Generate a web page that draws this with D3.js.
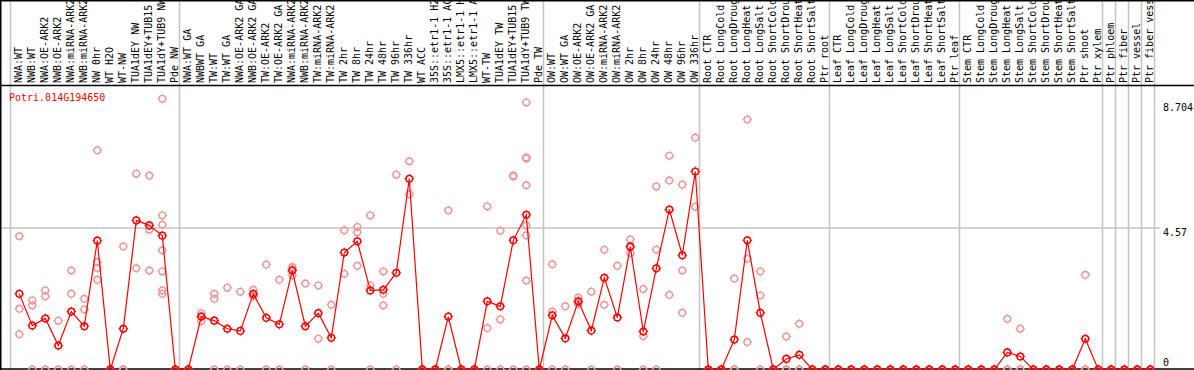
<!DOCTYPE html>
<html>
<head>
<meta charset="utf-8">
<script src="https://cdn.jsdelivr.net/npm/d3@7"></script>
<style>
html, body { margin: 0; padding: 0; background: #fff; overflow: hidden; }
text { font-family: "DejaVu Sans Mono", monospace; font-size: 10px; }
</style>
</head>
<body>
<div id="chart"></div>
<script>
const width = 1194;
const height = 370;

const gene = "Potri.014G194650";

// sample names, in plotting order
const labels = [
    "NWA:WT", "NWB:WT", "NWA:OE-ARK2", "NWB:OE-ARK2", "NWA:miRNA-ARK2", "NWB:miRNA-ARK2",
    "NW 0hr", "WT H2O", "WT-NW", "TUA1dEY NW", "TUA1dEY+TUB15 NW", "TUA1dY+TUB9 NW", "Pde NW",
    "NWA:WT GA", "NWBWT GA", "TW:WT", "TW:WT GA", "NWA:OE-ARK2 GA", "NWB:OE-ARK2 GA",
    "TW:OE-ARK2", "TW:OE-ARK2 GA", "NWA:miRNA-ARK2 GA", "NWB:miRNA-ARK2 GA", "TW:miRNA-ARK2",
    "TW:miRNA-ARK2 GA", "TW 2hr", "TW 8hr", "TW 24hr", "TW 48hr", "TW 96hr", "TW 336hr", "WT ACC",
    "35S::etr1-1 H2O", "35S::etr1-1 ACC", "LMX5::etr1-1 H2O", "LMX5::etr1-1 ACC", "WT-TW",
    "TUA1dEY TW", "TUA1dEY+TUB15 TW", "TUA1dY+TUB9 TW", "Pde TW",
    "OW:WT", "OW:WT GA", "OW:OE-ARK2", "OW:OE-ARK2 GA", "OW:miRNA-ARK2", "OW:miRNA-ARK2 GA",
    "OW 2hr", "OW 8hr", "OW 24hr", "OW 48hr", "OW 96hr", "OW 336hr",
    "Root CTR", "Root LongCold", "Root LongDrought", "Root LongHeat", "Root LongSalt",
    "Root ShortCold", "Root ShortDrought", "Root ShortHeat", "Root ShortSalt", "Ptr root",
    "Leaf CTR", "Leaf LongCold", "Leaf LongDrought", "Leaf LongHeat", "Leaf LongSalt",
    "Leaf ShortCold", "Leaf ShortDrought", "Leaf ShortHeat", "Leaf ShortSalt", "Ptr leaf",
    "Stem CTR", "Stem LongCold", "Stem LongDrought", "Stem LongHeat", "Stem LongSalt",
    "Stem ShortCold", "Stem ShortDrought", "Stem ShortHeat", "Stem ShortSalt", "Ptr shoot", "Ptr xylem",
    "Ptr phloem", "Ptr fiber", "Ptr vessel", "Ptr fiber vessel"
];

// number of samples in each separated block
const groupSizes = [13, 28, 12, 10, 10, 11, 1, 1, 1, 1];

// mean expression per sample
const means = [
    2.43, 1.41, 1.64, 0.77, 1.86, 1.39, 4.14, 0, 1.31, 4.79, 4.63, 4.30, 0,
    0, 1.70, 1.57, 1.31, 1.24, 2.43, 1.66, 1.45, 3.18, 1.39, 1.81, 1.02, 3.76, 4.12,
    2.54, 2.56, 3.11, 6.13, 0, 0, 1.70, 0, 0, 2.19, 2.03, 4.15, 4.97, 0,
    1.74, 1.00, 2.19, 1.25, 2.95, 1.67, 3.95, 1.22, 3.25, 5.14, 3.67, 6.36,
    0, 0, 0.96, 4.15, 1.82, 0, 0.34, 0.47, 0, 0,
    0, 0, 0, 0, 0, 0, 0, 0, 0, 0,
    0, 0, 0, 0.55, 0.42, 0, 0, 0, 0, 0.99, 0,
    0, 0, 0, 0
];

// individual replicates per sample
const replicates = [
    [4.28, 1.95, 1.13], [2.22, 2.06, 0], [2.54, 2.35, 0], [1.57, 0], [3.18, 2.43, 0],
    [2.27, 1.93, 0], [7.04, 3.45, 3.26, 2.88], [0, 0, 0], [3.95, 0, 0], [6.29, 3.25],
    [6.23, 4.49, 3.18], [8.70, 4.95, 4.65, 3.83, 3.15, 2.54, 2.43], [0, 0, 0],
    [0, 0, 0], [1.81, 1.70, 1.55], [2.43, 2.27, 0], [2.63, 0], [2.50, 0], [2.56, 2.35, 2.38],
    [3.37, 0], [2.88, 0], [3.29, 3.02, 3.23], [2.76, 0], [2.70, 0.99], [2.08, 0],
    [4.47, 3.08], [4.58, 4.41, 3.33], [4.95, 2.70, 0], [3.15, 2.43, 2.06], [6.26, 0],
    [6.69, 5.63], [0, 0, 0], [0, 0, 0], [5.11, 0, 0], [0, 0, 0], [0, 0, 0],
    [5.24, 1.33, 0], [4.46, 1.61, 0], [6.23, 6.20, 0],
    [8.58, 6.81, 6.78, 5.92, 4.63, 4.31, 2.86, 0], [0, 0, 0],
    [3.38, 1.86, 0], [2.03, 0], [2.31, 2.10, 2.16], [2.50, 0], [3.85, 2.08], [3.33, 0],
    [4.18, 3.74, 3.93], [2.59, 1.07, 0], [5.88, 3.85, 0], [6.87, 6.07, 2.40],
    [5.94, 3.18, 1.82], [7.45, 5.23],
    [0, 0, 0], [0, 0, 0], [2.92, 0, 0], [8.03, 3.56, 0.88], [3.15, 2.38, 0], [0, 0, 0],
    [1.06, 0, 0], [1.47, 0, 0], [0, 0, 0], [0, 0, 0],
    [0, 0, 0], [0, 0, 0], [0, 0, 0], [0, 0, 0], [0, 0, 0],
    [0, 0, 0], [0, 0, 0], [0, 0, 0], [0, 0, 0], [0, 0, 0],
    [0, 0, 0], [0, 0, 0], [0, 0, 0], [1.63, 0, 0], [1.31, 0, 0], [0, 0, 0],
    [0, 0, 0], [0, 0, 0], [0, 0, 0], [3.04, 0, 0], [0, 0, 0],
    [0, 0, 0], [0, 0, 0], [0, 0, 0], [0, 0, 0]
];

const yTicks = [0, 4.57, 8.704];
const yTickLabels = ["0", "4.57", "8.704"];
const yTop = 9.14;

const headerH = 85;
const red = "#ff0000";
const pink = "#eb9a9a";
const grey = "#c4c4c4";

const svg = d3.select("#chart")
    .append("svg")
    .attr("width", width)
    .attr("height", height);

const x = d3.scaleBand()
    .domain(d3.range(labels.length))
    .range([11.3, 1155.3]);

const y = d3.scaleLinear()
    .domain([0, yTop])
    .range([369.5, headerH]);

const cx = i => x(i) + 8;

// block separators
const starts = [];
let acc = 0;
groupSizes.forEach(n => { starts.push(acc); acc += n; });
const sepX = starts.map(s => x(s)).concat([x.range()[1]]);

svg.append("g")
    .selectAll("line")
    .data(sepX)
    .enter()
    .append("line")
    .attr("x1", d => Math.round(d) - 0.5)
    .attr("x2", d => Math.round(d) - 0.5)
    .attr("y1", 0)
    .attr("y2", height)
    .attr("stroke", grey)
    .attr("stroke-width", 1.5);

// horizontal grid at middle tick
svg.append("line")
    .attr("x1", 0)
    .attr("x2", 1160)
    .attr("y1", Math.round(y(yTicks[1])) + 1)
    .attr("y2", Math.round(y(yTicks[1])) + 1)
    .attr("stroke", grey)
    .attr("stroke-width", 1.5);

// frame
svg.append("line").attr("x1", 0).attr("x2", width).attr("y1", 0.5).attr("y2", 0.5)
    .attr("stroke", "#000").attr("stroke-width", 2);
svg.append("line").attr("x1", 0).attr("x2", width).attr("y1", headerH + 0.5).attr("y2", headerH + 0.5)
    .attr("stroke", "#000").attr("stroke-width", 1.5);
svg.append("line").attr("x1", 0).attr("x2", width).attr("y1", height - 1).attr("y2", height - 1)
    .attr("stroke", "#000").attr("stroke-width", 1.5);
svg.append("line").attr("x1", 0.75).attr("x2", 0.75).attr("y1", 0).attr("y2", height)
    .attr("stroke", "#000").attr("stroke-width", 1.5);

// sample labels, rotated
svg.append("g")
    .selectAll("text")
    .data(labels)
    .enter()
    .append("text")
    .attr("transform", (d, i) => `translate(${cx(i) + 3},${headerH - 2}) rotate(-90)`)
    .attr("fill", "#000")
    .text(d => d);

// marker: open circle with four little ticks
function marker(sel, color, sw) {
    const r = 3.3;
    sel.append("circle")
        .attr("r", r)
        .attr("fill", "none")
        .attr("stroke", color)
        .attr("stroke-width", sw);
    sel.append("path")
        .attr("d", `M0,${-r - 1.5}V${-r}M0,${r}V${r + 1.5}M${-r - 1.5},0H${-r}M${r},0H${r + 1.5}`)
        .attr("stroke", color)
        .attr("stroke-width", 1);
}

// replicates
const repData = [];
replicates.forEach((reps, i) => reps.forEach(v => repData.push({ i, v })));

svg.append("g")
    .selectAll("g")
    .data(repData)
    .enter()
    .append("g")
    .attr("transform", d => `translate(${cx(d.i)},${y(d.v)})`)
    .call(marker, pink, 1.4);

// mean line
const line = d3.line()
    .x((d, i) => cx(i))
    .y(d => y(d));

svg.append("path")
    .datum(means)
    .attr("d", line)
    .attr("fill", "none")
    .attr("stroke", red)
    .attr("stroke-width", 1.2);

svg.append("g")
    .selectAll("g")
    .data(means)
    .enter()
    .append("g")
    .attr("transform", (d, i) => `translate(${cx(i)},${y(d)})`)
    .call(marker, red, 1.5);

// gene name
svg.append("text")
    .attr("x", 9)
    .attr("y", headerH + 16)
    .attr("fill", red)
    .text(gene);

// right-hand value labels
const labelOffset = [-3.5, 8.5, 12.5];
svg.append("g")
    .selectAll("text")
    .data(yTicks)
    .enter()
    .append("text")
    .attr("x", 1163)
    .attr("y", (d, i) => y(d) + labelOffset[i])
    .attr("fill", "#000")
    .text((d, i) => yTickLabels[i]);
</script>
</body>
</html>
